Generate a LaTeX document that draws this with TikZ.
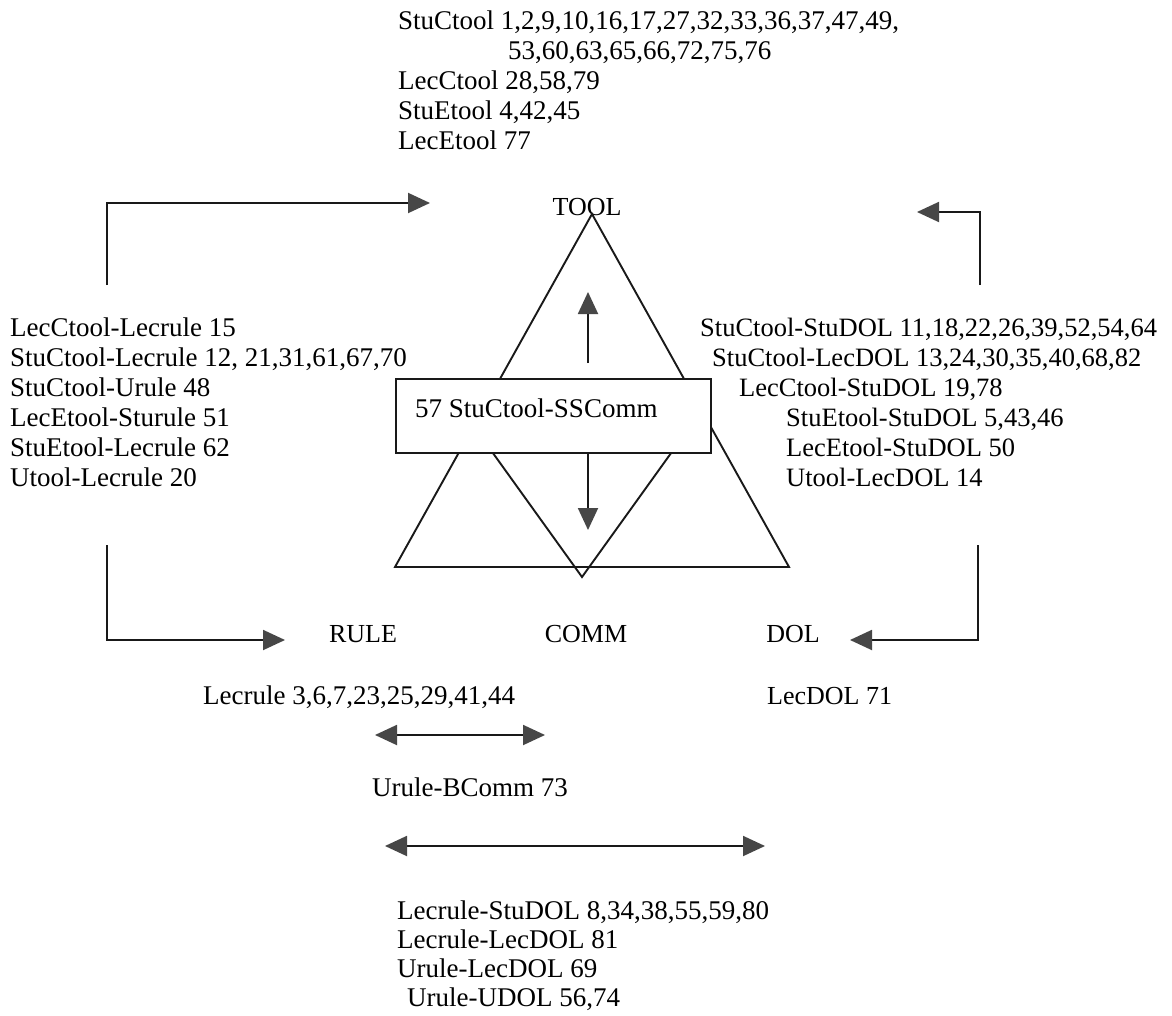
\documentclass[tikz,border=0pt]{standalone}
\usepackage{fontspec}
\setmainfont{Liberation Serif}
\usetikzlibrary{arrows.meta}
\tikzset{
  txt/.style={inner sep=0pt, anchor=base west, font=\fontsize{27}{30}\selectfont, text=black},
  lbl/.style={inner sep=0pt, anchor=base, font=\fontsize{26}{30}\selectfont, text=black},
  shapeline/.style={line width=1.9pt, draw=black!90, line join=miter},
  arr/.style={line width=1.9pt, draw=black!90, -{Triangle[length=22pt,width=20pt,color=black!72]}},
  darr/.style={line width=1.9pt, draw=black!90, {Triangle[length=22pt,width=20pt,color=black!72]}-{Triangle[length=22pt,width=20pt,color=black!72]}}
}
\begin{document}
\begin{tikzpicture}[x=1pt,y=-1pt]
\useasboundingbox[fill=white] (0,0) rectangle (1172,1016);

% top block
\node[txt] (t1) at (398,30) {StuCtool 1,2,9,10,16,17,27,32,33,36,37,47,49,};
\node[txt] (t2) at (508,60) {53,60,63,65,66,72,75,76};
\node[txt] (t3) at (398,90) {LecCtool 28,58,79};
\node[txt] (t4) at (398,120) {StuEtool 4,42,45};
\node[txt] (t5) at (398,150) {LecEtool 77};

% corner labels
\node[lbl] (tool) at (587,216) {TOOL};
\node[lbl] (rule) at (363,642) {RULE};
\node[lbl] (comm) at (586,642) {COMM};
\node[lbl] (dol) at (793,642) {DOL};

% triangles
\coordinate (iA) at (462,410);
\coordinate (iB) at (702,410);
\coordinate (iC) at (582,577);
\draw[shapeline] (iA) -- (iB) -- (iC) -- cycle;
\coordinate (tA) at (592,214);
\coordinate (tB) at (395,567);
\coordinate (tC) at (789,567);
\draw[shapeline] (tA) -- (tB) -- (tC) -- cycle;

% central box
\node[draw=black!90, line width=1.9pt, fill=white, minimum width=315pt, minimum height=74pt, inner sep=0pt, anchor=north west] (box) at (395,378) {};
\node[txt] (boxt) at (415,417) {57 StuCtool-SSComm};

% vertical arrows in triangle
\coordinate (up0) at (588,363);
\coordinate (up1) at (588,292);
\draw[arr] (up0) -- (up1);
\coordinate (dn1) at (588,530);
\draw[arr] (box.south -| up0) -- (dn1);

% left block
\node[txt] (l1) at (10,336) {LecCtool-Lecrule 15};
\node[txt] (l2) at (10,366) {StuCtool-Lecrule 12, 21,31,61,67,70};
\node[txt] (l3) at (10,396) {StuCtool-Urule 48};
\node[txt] (l4) at (10,426) {LecEtool-Sturule 51};
\node[txt] (l5) at (10,456) {StuEtool-Lecrule 62};
\node[txt] (l6) at (10,486) {Utool-Lecrule 20};

% right block
\node[txt, font=\fontsize{26.5}{30}\selectfont] (r1) at (700,336) {StuCtool-StuDOL 11,18,22,26,39,52,54,64};
\node[txt, font=\fontsize{26.5}{30}\selectfont] (r2) at (712,366) {StuCtool-LecDOL 13,24,30,35,40,68,82};
\node[txt, font=\fontsize{26.5}{30}\selectfont] (r3) at (739,396) {LecCtool-StuDOL 19,78};
\node[txt, font=\fontsize{26.5}{30}\selectfont] (r4) at (786,426) {StuEtool-StuDOL 5,43,46};
\node[txt, font=\fontsize{26.5}{30}\selectfont] (r5) at (786,456) {LecEtool-StuDOL 50};
\node[txt, font=\fontsize{26.5}{30}\selectfont] (r6) at (786,486) {Utool-LecDOL 14};

% elbow arrows
\coordinate (lu0) at (107,285);
\coordinate (lu1) at (107,203);
\coordinate (lu2) at (430,203);
\draw[arr] (lu0) -- (lu1) -- (lu2);
\coordinate (ld0) at (107,545);
\coordinate (ld1) at (107,640);
\coordinate (ld2) at (285,640);
\draw[arr] (ld0) -- (ld1) -- (ld2);
\coordinate (ru0) at (980,285);
\coordinate (ru1) at (980,212);
\coordinate (ru2) at (917,212);
\draw[arr] (ru0) -- (ru1) -- (ru2);
\coordinate (rd0) at (978,545);
\coordinate (rd1) at (978,640);
\coordinate (rd2) at (850,640);
\draw[arr] (rd0) -- (rd1) -- (rd2);

% lower texts
\node[txt] (lecrule) at (203,704) {Lecrule 3,6,7,23,25,29,41,44};
\node[txt, font=\fontsize{26}{30}\selectfont] (lecdol) at (767,704) {LecDOL 71};
\coordinate (s0) at (375,735);
\coordinate (s1) at (545,735);
\draw[darr] (s0) -- (s1);
\node[txt] (urb) at (372,796) {Urule-BComm 73};
\coordinate (g0) at (385,846);
\coordinate (g1) at (765,846);
\draw[darr] (g0) -- (g1);
\node[txt] (b1) at (397,919) {Lecrule-StuDOL 8,34,38,55,59,80};
\node[txt] (b2) at (397,948) {Lecrule-LecDOL 81};
\node[txt] (b3) at (397,977) {Urule-LecDOL 69};
\node[txt] (b4) at (407,1006) {Urule-UDOL 56,74};
\end{tikzpicture}
\end{document}
